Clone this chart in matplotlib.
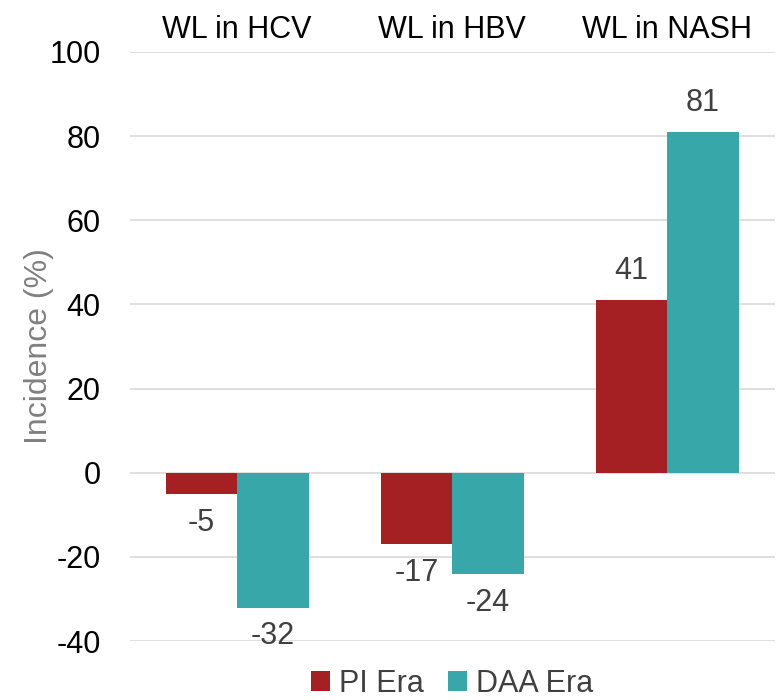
import numpy as np
import matplotlib.pyplot as plt

plt.rcParams['font.family'] = ['Liberation Sans', 'DejaVu Sans']
plt.rcParams['axes.unicode_minus'] = False

categories = ['WL in HCV', 'WL in HBV', 'WL in NASH']
pi_era = [-5, -17, 41]
daa_era = [-32, -24, 81]
series_names = ['PI Era', 'DAA Era']
colors = ['#A52022', '#37A7AA']

fig = plt.figure(figsize=(7.77, 7.0), dpi=100)
ax = fig.add_axes([0.167, 0.084, 0.83, 0.842])

x = np.arange(len(categories))
w = 0.333
label_color = '#404040'

for i, (vals, name, col) in enumerate(zip([pi_era, daa_era], series_names, colors)):
    pos = x + (i - 0.5) * w
    bars = ax.bar(pos, vals, width=w, color=col, label=name, zorder=2)
    for b, v in zip(bars, vals):
        off = 10 if v >= 0 else -10
        ax.annotate(str(v), (b.get_x() + b.get_width() / 2, v),
                    xytext=(0, off), textcoords='offset points',
                    ha='center', va='bottom' if v >= 0 else 'top',
                    fontsize=22, color=label_color)

ax.set_xlim(-0.5, 2.5)
ax.set_ylim(-40, 100)
ax.set_yticks(np.arange(-40, 101, 20))
ax.yaxis.grid(True, color='#d9d9d9', linewidth=1.2, zorder=0)
ax.set_axisbelow(True)

ax.xaxis.tick_top()
ax.set_xticks(x)
ax.set_xticklabels(categories, fontsize=22, color='black')
ax.tick_params(axis='x', length=0, pad=5)
ax.tick_params(axis='y', length=0, labelsize=22, pad=21)

for s in ax.spines.values():
    s.set_visible(False)

ax.set_ylabel('Incidence (%)', fontsize=23, color='#808080', labelpad=-3)

ax.legend(loc='center', bbox_to_anchor=(0.5, -0.072), ncol=2, frameon=False,
          fontsize=22, handlelength=0.6, handleheight=0.6, columnspacing=0.8,
          handletextpad=0.3, labelcolor='#404040')

fig.savefig('out.png', dpi=100)
